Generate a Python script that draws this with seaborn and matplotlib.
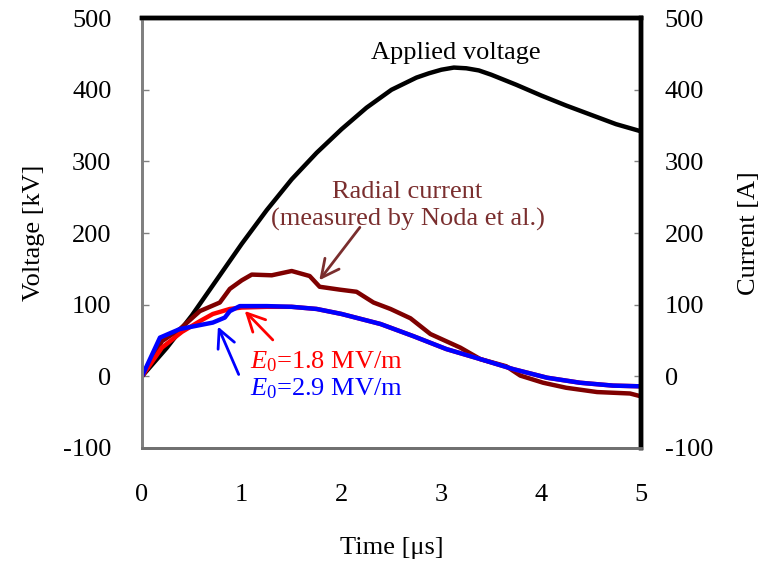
import matplotlib
matplotlib.use("Agg")
import matplotlib.pyplot as plt
import seaborn as sns
import pandas as pd

# ---- data ----
t_volt = [0, 0.25, 0.5, 0.75, 1.0, 1.25, 1.5, 1.75, 2.0, 2.25, 2.5, 2.75, 2.875, 3.0, 3.125, 3.25, 3.375, 3.5, 3.75, 4.0, 4.25, 4.5, 4.75, 5.0]
voltage = [0, 40, 85, 135, 185, 232, 275, 312, 345, 375, 400, 417, 423, 428, 431, 430, 427, 421, 407, 392, 378, 365, 352, 342]

t_radial = [0, 0.2, 0.38, 0.58, 0.78, 0.88, 1.0, 1.1, 1.3, 1.5, 1.68, 1.78, 1.98, 2.15, 2.32, 2.49, 2.69, 2.89, 3.19, 3.39, 3.65, 3.79, 4.02, 4.25, 4.56, 4.89, 5.0]
radial = [0, 49, 66, 91, 103, 122, 134, 142, 141, 147, 140, 125, 121, 118, 103, 94, 81, 59, 40, 24, 14, 1, -9, -16, -22, -24, -28]

t_e18 = [0, 0.2, 0.4, 0.58, 0.71, 0.88, 1.0, 1.25, 1.5, 1.75, 2.0, 2.39, 2.72, 3.05, 3.39, 3.72, 4.06, 4.39, 4.72, 5.0]
i_e18 = [0, 40, 62, 77, 87, 94, 96, 97, 97, 94, 87, 73, 56, 38, 24, 10, -2, -9, -13, -14]

t_e29 = [0, 0.18, 0.38, 0.71, 0.83, 0.88, 0.98, 1.25, 1.5, 1.75, 2.0, 2.39, 2.72, 3.05, 3.39, 3.72, 4.06, 4.39, 4.72, 5.0]
i_e29 = [0, 54, 66, 75, 82, 91, 98, 98, 97, 94, 87, 73, 56, 38, 24, 10, -2, -9, -13, -14]

x_ticks = [0, 1, 2, 3, 4, 5]
y_ticks = [-100, 0, 100, 200, 300, 400, 500]

# ---- style ----
sns.set_theme(style="white")
plt.rcParams["font.family"] = ["Liberation Serif", "DejaVu Serif"]
plt.rcParams["mathtext.fontset"] = "custom"
plt.rcParams["mathtext.rm"] = "Liberation Serif"
plt.rcParams["mathtext.it"] = "Liberation Serif:italic"
for k in ("text.color", "axes.labelcolor", "xtick.labelcolor", "ytick.labelcolor"):
    plt.rcParams[k] = "black"

FS = 19
dark_red = "#7f0000"
text_red = "#7a2e2e"

fig = plt.figure(figsize=(7.65, 5.67), dpi=100)
ax = fig.add_axes([0.1856, 0.210, 0.6523, 0.758])

df_v = pd.DataFrame({"t": t_volt, "v": voltage})
df_r = pd.DataFrame({"t": t_radial, "v": radial})
df_a = pd.DataFrame({"t": t_e18, "v": i_e18})
df_b = pd.DataFrame({"t": t_e29, "v": i_e29})

kw = dict(lw=3.2, sort=False, solid_joinstyle="round")
sns.lineplot(data=df_v, x="t", y="v", ax=ax, color="black", **kw)
sns.lineplot(data=df_r, x="t", y="v", ax=ax, color=dark_red, **kw)
sns.lineplot(data=df_a, x="t", y="v", ax=ax, color="#ff0000", **kw)
sns.lineplot(data=df_b, x="t", y="v", ax=ax, color="#0000ff", **kw)

ax.set_xlim(0, 5)
ax.set_ylim(-100, 500)
ax.set_xticks(x_ticks)
ax.set_yticks(y_ticks)
ax.set_xticklabels([str(v) for v in x_ticks], fontsize=FS)
ax.set_yticklabels([str(v) for v in y_ticks], fontsize=FS)
ax.set_xlabel("Time [μs]", fontsize=FS, labelpad=22)
ax.set_ylabel("Voltage [kV]", fontsize=FS, labelpad=13)
ax.tick_params(axis="x", direction="in", length=5, width=1, color="#808080", pad=26)
ax.tick_params(axis="y", direction="in", length=5, width=1, color="#808080", pad=22)

ax2 = ax.twinx()
ax2.set_ylim(-100, 500)
ax2.set_yticks(y_ticks)
ax2.set_yticklabels([str(v) for v in y_ticks], fontsize=FS)
ax2.set_ylabel("Current [A]", fontsize=FS, labelpad=18)
ax2.tick_params(axis="y", direction="in", length=5, width=1, color="#808080", pad=17)

for a in (ax, ax2):
    a.spines["left"].set_color("#808080")
    a.spines["left"].set_linewidth(2)
    a.spines["bottom"].set_color("#707070")
    a.spines["bottom"].set_linewidth(2)
    a.spines["top"].set_color("black")
    a.spines["top"].set_linewidth(3.2)
    a.spines["right"].set_color("black")
    a.spines["right"].set_linewidth(3.2)

ax.text(3.14, 451, "Applied voltage", fontsize=FS, ha="center", va="center", color="black")
ax.text(2.66, 238, "Radial current\n(measured by Noda et al.)", fontsize=FS, ha="center",
        va="center", color=text_red, linespacing=1.3)
ax.annotate("", xy=(1.76, 131), xytext=(2.2, 211),
            arrowprops=dict(arrowstyle="->", color=text_red, lw=2, mutation_scale=32))
ax.annotate("", xy=(1.01, 94), xytext=(1.33, 48),
            arrowprops=dict(arrowstyle="->", color="#ff0000", lw=2, mutation_scale=32))
ax.annotate("", xy=(0.75, 73), xytext=(0.98, -1),
            arrowprops=dict(arrowstyle="->", color="#0000ff", lw=2, mutation_scale=32))
ax.text(1.08, 20, r"$E_{\mathit{0}}$=1.8 MV/m", fontsize=FS, ha="left", va="center", color="#ff0000")
ax.text(1.08, -18, r"$E_{\mathit{0}}$=2.9 MV/m", fontsize=FS, ha="left", va="center", color="#0000ff")

fig.savefig("out.png", dpi=100)
